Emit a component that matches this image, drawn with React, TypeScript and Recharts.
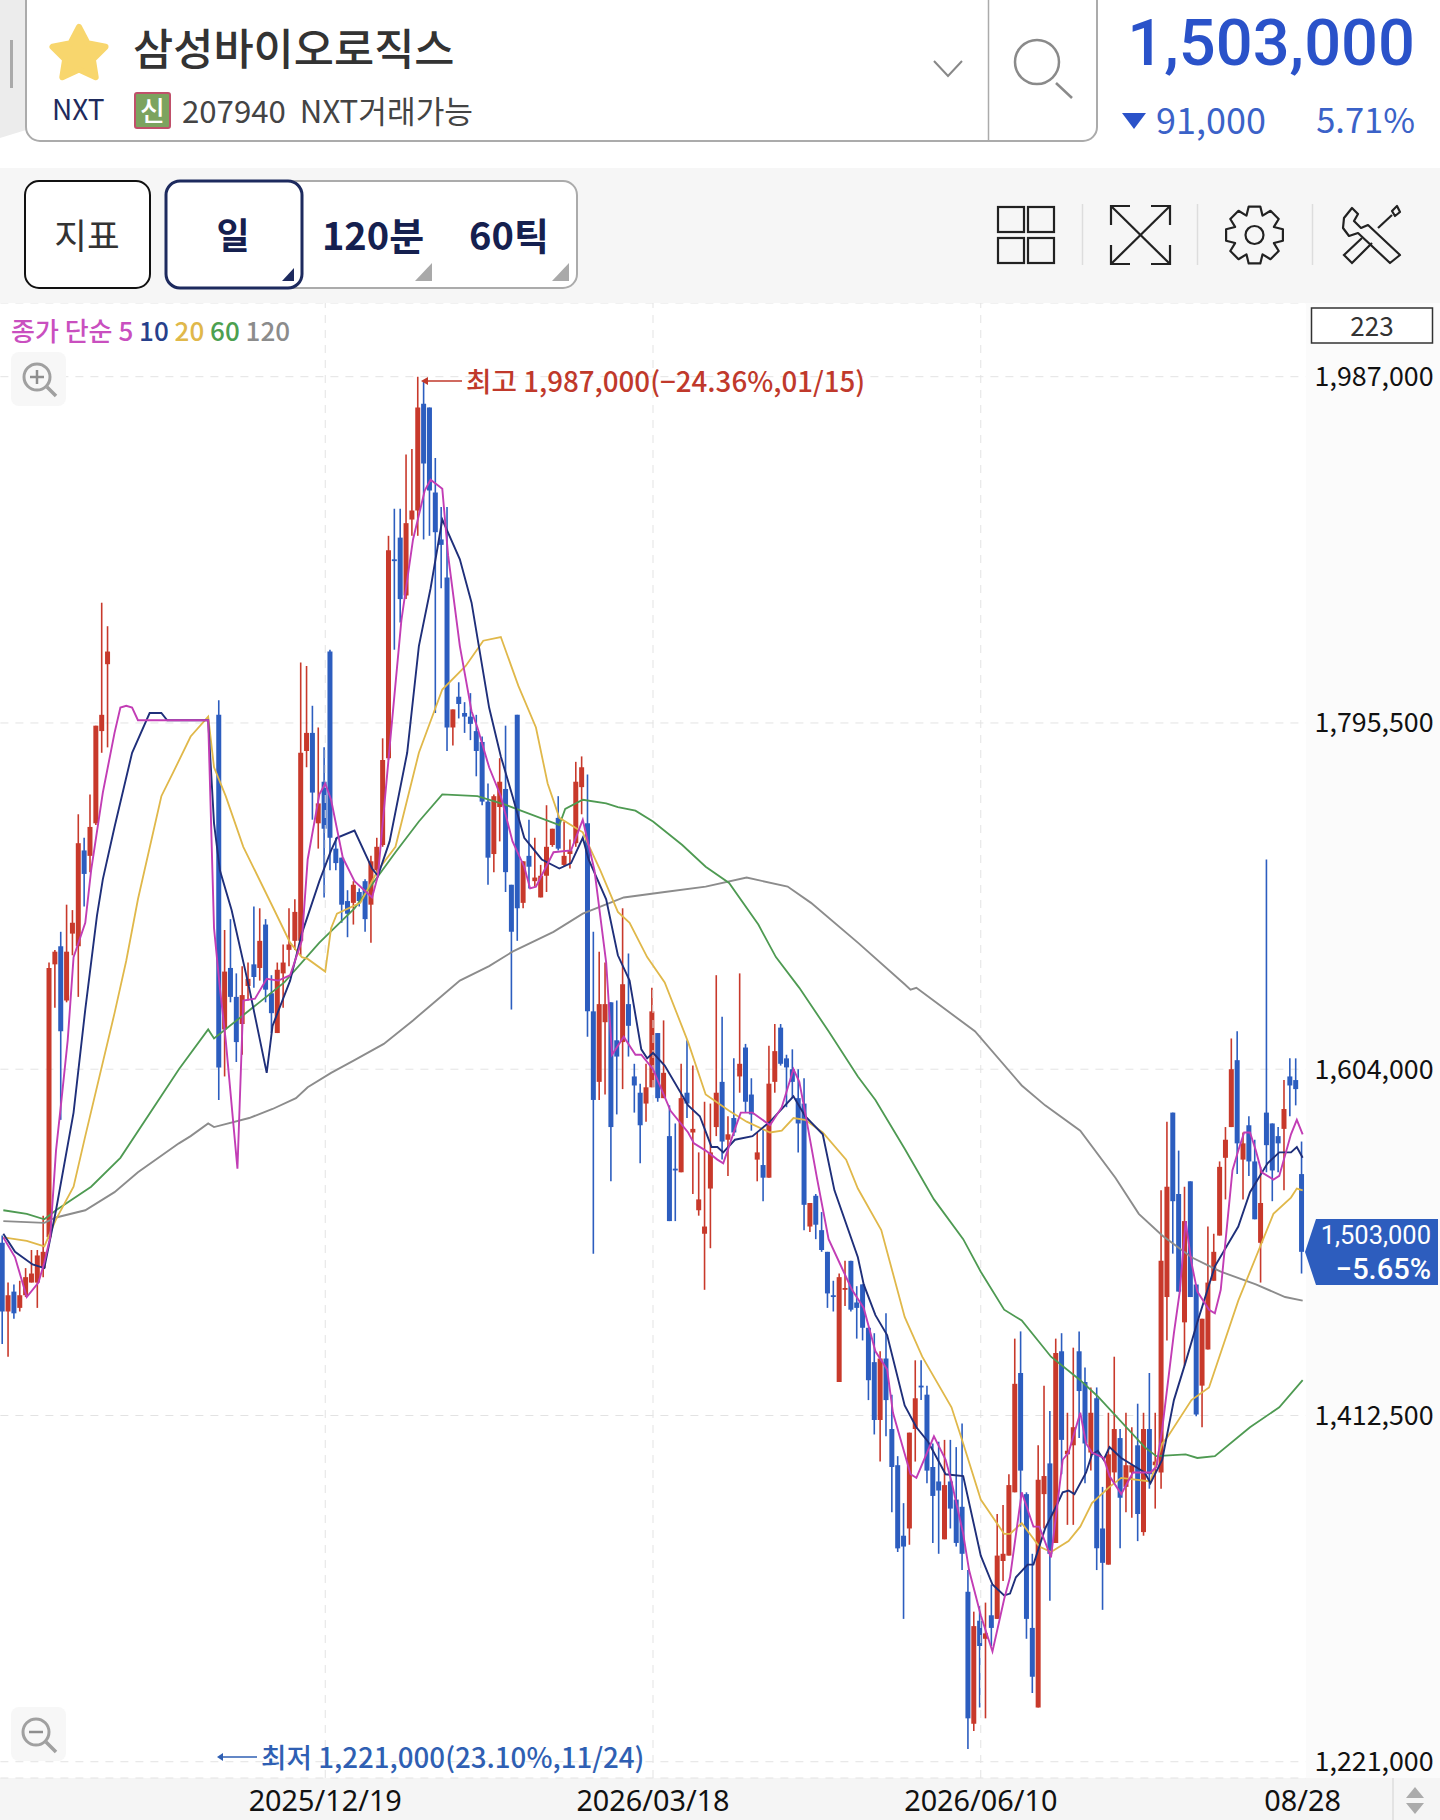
import React from 'react';
import { ComposedChart, Bar, Line, XAxis, YAxis, CartesianGrid, ReferenceLine, Cell } from 'recharts';

// prices are in thousands of won, one slot per trading day (223 bars, gap = trading halt)
const N = null;
const highs = [
  1512,1486,1485,1487,1494,1504,1504,1523,1663,1670,
  1680,1695,1692,1745,1732,1756,1794,1862,1849,N,
  N,N,N,N,N,N,N,N,N,N,
  N,N,N,N,N,N,N,1808,1681,1687,
  1657,1661,1663,1694,1693,1687,1656,1663,1673,1693,
  1698,1829,1827,1805,1793,1782,1836,1732,1721,1703,
  1708,1704,1709,1722,1732,1787,1899,1914,1914,1944,
  1947,1987,1985,1970,1942,1915,1915,1803,1818,1807,
  1812,1800,1788,1762,1756,1776,1794,1706,1800,1719,
  1742,1732,1717,1750,1737,1755,1741,1731,1774,1777,
  1767,1680,1669,1663,1641,1642,1693,1668,1607,1596,
  1607,1649,1624,1631,1584,1574,1607,1620,1606,1558,
  1586,1585,1656,1633,1578,1610,1657,1618,1599,1569,
  1571,1617,1629,1629,1612,1615,1604,1599,1530,1535,
  1525,1503,1487,1491,1498,1498,1484,1485,1461,1458,
  1448,1469,1424,1390,1364,1403,1443,1443,1429,1397,
  1398,1399,1399,1395,1408,1327,1304,1307,1309,1319,
  1358,1363,1380,1455,1459,1370,1336,1396,1429,1415,
  1455,1458,1414,1450,1459,1439,1428,1428,1373,1414,
  1445,1405,1414,1406,1419,1414,1436,1414,1537,1575,
  1580,1559,1539,1542,1485,1466,1517,1513,1553,1572,
  1621,1625,1569,1578,1565,1550,1720,1574,1572,1598,
  1610,1610,1564,
];
const lows = [
  1452,1445,1466,1470,1478,1486,1472,1489,1510,1638,
  1576,1641,1667,1644,1694,1713,1739,1779,1782,N,
  N,N,N,N,N,N,N,N,N,N,
  N,N,N,N,N,N,N,1587,1600,1641,
  1608,1612,1642,1649,1653,1641,1624,1624,1638,1661,
  1670,1667,1771,1742,1726,1699,1714,1714,1685,1677,
  1684,1694,1680,1674,1713,1727,1775,1836,1851,1864,
  1899,1899,1897,1899,1801,1870,1780,1783,1798,1790,
  1786,1766,1750,1706,1713,1730,1702,1637,1675,1693,
  1704,1705,1699,1702,1727,1725,1716,1715,1727,1745,
  1622,1502,1587,1590,1542,1579,1593,1611,1580,1552,
  1575,1594,1586,1588,1520,1520,1547,1577,1535,1523,
  1482,1505,1567,1554,1545,1567,1591,1580,1570,1542,
  1531,1544,1591,1606,1583,1588,1558,1515,1514,1510,
  1503,1472,1470,1431,1473,1470,1455,1454,1421,1402,
  1387,1401,1359,1337,1300,1341,1387,1421,1375,1342,
  1336,1344,1350,1340,1327,1228,1238,1251,1245,1285,
  1300,1321,1335,1370,1351,1289,1259,1251,1350,1310,
  1342,1380,1352,1352,1400,1375,1382,1327,1305,1330,
  1375,1339,1359,1356,1343,1346,1372,1361,1372,1454,
  1502,1481,1440,1478,1412,1406,1449,1487,1512,1532,
  1572,1546,1532,1545,1521,1486,1547,1531,1547,1537,
  1578,1584,1491,
];
const opens = [
  1508,1470,1481,1472,1479,1486,1486,1494,1511,1662,
  1672,1642,1679,1672,1725,1722,1740,1791,1828,N,
  N,N,N,N,N,N,N,N,N,N,
  N,N,N,N,N,N,N,1800,1626,1660,
  1644,1629,1650,1662,1660,1684,1646,1624,1657,1670,
  1675,1675,1780,1790,1740,1763,1835,1726,1721,1697,
  1696,1702,1708,1695,1714,1728,1776,1886,1898,1866,
  1908,1913,1972,1970,1923,1897,1876,1793,1810,1801,
  1799,1791,1785,1752,1723,1749,1759,1706,1800,1696,
  1722,1708,1699,1711,1728,1743,1717,1723,1729,1760,
  1740,1636,1597,1630,1641,1620,1619,1640,1600,1591,
  1585,1594,1624,1588,1567,1549,1547,1591,1569,1526,
  1513,1538,1572,1597,1565,1577,1600,1616,1590,1554,
  1551,1544,1597,1627,1610,1604,1588,1585,1517,1534,
  1515,1503,1479,1431,1482,1498,1475,1485,1461,1442,
  1410,1444,1405,1385,1346,1350,1405,1429,1424,1384,
  1376,1344,1376,1366,1362,1315,1242,1299,1289,1302,
  1300,1332,1335,1370,1436,1369,1295,1251,1369,1386,
  1342,1448,1391,1396,1448,1431,1392,1422,1350,1330,
  1381,1400,1373,1381,1396,1348,1405,1385,1381,1478,
  1580,1535,1464,1542,1485,1429,1449,1487,1512,1555,
  1572,1609,1554,1573,1553,1508,1580,1574,1567,1571,
  1600,1598,1546,
];
const closes = [
  1470,1479,1469,1479,1489,1491,1501,1503,1660,1669,
  1625,1669,1685,1729,1712,1738,1794,1800,1835,N,
  N,N,N,N,N,N,N,N,N,N,
  N,N,N,N,N,N,N,1605,1658,1644,
  1619,1645,1654,1655,1675,1648,1635,1659,1663,1673,
  1691,1779,1790,1757,1751,1737,1732,1718,1695,1690,
  1706,1697,1687,1719,1727,1775,1891,1885,1864,1906,
  1913,1970,1939,1924,1901,1894,1793,1803,1806,1799,
  1795,1780,1752,1721,1755,1763,1713,1680,1693,1719,
  1716,1710,1711,1727,1737,1726,1722,1725,1763,1771,
  1636,1587,1640,1640,1572,1611,1651,1628,1595,1573,
  1594,1636,1588,1602,1520,1548,1588,1585,1571,1532,
  1517,1558,1591,1564,1568,1569,1607,1586,1579,1558,
  1544,1596,1614,1607,1605,1597,1574,1529,1530,1518,
  1504,1480,1478,1489,1483,1471,1472,1461,1432,1410,
  1444,1421,1384,1339,1340,1403,1422,1428,1382,1368,
  1371,1374,1361,1342,1336,1245,1296,1285,1292,1295,
  1335,1336,1374,1430,1382,1300,1268,1377,1379,1336,
  1447,1399,1393,1406,1426,1397,1414,1339,1331,1391,
  1405,1367,1385,1385,1358,1405,1380,1387,1498,1539,
  1531,1481,1520,1478,1413,1466,1486,1503,1550,1565,
  1604,1563,1563,1553,1521,1530,1562,1548,1563,1582,
  1595,1593,1503,
];

// moving averages at their visible bends: [bar, price]
const ma5: [number, number][] = [
  [0,1511],[2,1500],[4,1478],[6,1486],[7,1497],[8,1511],[9,1559],[10,1589],[11,1620],[12,1666],[14,1685],[15,1714],
  [17,1757],[19,1790],[20,1804],[21,1805],[22,1804],[23,1797],[35,1797],[36,1682],[37,1649],[38,1620],[40,1549],
  [41,1642],[43,1643],[45,1654],[47,1653],[49,1656],[51,1675],[52,1720],[54,1756],[55,1762],[56,1753],[58,1721],
  [60,1708],[63,1699],[64,1711],[66,1782],[68,1852],[70,1897],[72,1924],[73,1930],[75,1925],[76,1888],[78,1838],
  [80,1802],[81,1793],[83,1771],[85,1755],[87,1730],[89,1716],[90,1704],[91,1705],[94,1724],[97,1725],[99,1742],
  [101,1714],[103,1663],[104,1612],[106,1622],[108,1612],[109,1612],[111,1604],[114,1581],[117,1569],[118,1563],
  [120,1559],[122,1554],[123,1552],[125,1571],[126,1580],[128,1580],[131,1573],[133,1583],[135,1604],[136,1597],
  [137,1580],[139,1544],[141,1510],[143,1496],[145,1482],[147,1472],[149,1448],[151,1438],[152,1414],[155,1380],
  [156,1378],[159,1401],[161,1388],[162,1376],[164,1347],[165,1327],[167,1302],[169,1282],[171,1311],[172,1323],
  [174,1370],[176,1351],[177,1351],[179,1334],[181,1388],[182,1392],[184,1414],[185,1397],[186,1392],[188,1389],
  [189,1379],[191,1369],[193,1381],[196,1381],[197,1384],[198,1405],[200,1458],[201,1481],[202,1520],[203,1497],
  [204,1481],[206,1471],[207,1469],[208,1482],[210,1548],[211,1559],[212,1569],[213,1569],[214,1559],[215,1547],
  [217,1543],[218,1545],[220,1568],[221,1576],[222,1568],
];
const ma10: [number, number][] = [
  [0,1513],[2,1503],[5,1496],[7,1494],[9,1526],[12,1580],[14,1637],[16,1689],[17,1709],[19,1738],[22,1779],[25,1801],
  [27,1801],[28,1797],[35,1797],[36,1740],[37,1714],[39,1692],[42,1649],[45,1602],[46,1628],[49,1653],[51,1679],
  [54,1708],[56,1725],[57,1732],[60,1736],[63,1715],[64,1711],[66,1730],[69,1779],[71,1838],[73,1870],[75,1908],
  [78,1886],[80,1862],[83,1804],[85,1777],[87,1755],[89,1732],[92,1720],[95,1715],[97,1718],[99,1732],[100,1720],
  [103,1698],[105,1667],[107,1653],[109,1615],[110,1610],[111,1613],[113,1606],[117,1584],[119,1578],[121,1561],
  [122,1561],[123,1558],[125,1565],[128,1567],[131,1575],[135,1589],[137,1578],[140,1568],[142,1537],[146,1500],
  [147,1485],[149,1468],[151,1457],[154,1418],[156,1406],[158,1398],[161,1380],[164,1379],[167,1335],[169,1319],
  [171,1313],[172,1314],[173,1323],[175,1330],[176,1330],[178,1350],[180,1363],[181,1370],[182,1371],[183,1369],
  [185,1381],[186,1391],[187,1393],[188,1388],[189,1395],[191,1389],[193,1385],[195,1381],[196,1375],[198,1388],
  [200,1421],[202,1442],[204,1464],[207,1495],[211,1517],[213,1536],[216,1552],[218,1558],[220,1558],[221,1561],
  [222,1555],
];
const ma20: [number, number][] = [
  [0,1511],[4,1509],[7,1506],[9,1521],[12,1539],[14,1567],[19,1635],[21,1664],[23,1698],[27,1755],[29,1768],[32,1788],
  [35,1799],[36,1771],[38,1755],[41,1727],[46,1694],[49,1674],[51,1666],[52,1665],[55,1658],[56,1682],[57,1690],
  [61,1696],[64,1714],[67,1727],[71,1779],[75,1814],[79,1827],[82,1841],[85,1843],[88,1816],[91,1793],[93,1762],
  [95,1743],[99,1735],[102,1714],[105,1691],[107,1685],[110,1666],[113,1652],[117,1619],[120,1590],[124,1581],
  [127,1575],[131,1569],[133,1570],[135,1577],[137,1576],[140,1569],[144,1554],[146,1538],[150,1515],[154,1467],
  [157,1445],[162,1417],[164,1397],[167,1366],[171,1347],[172,1347],[174,1353],[177,1340],[179,1337],[182,1343],
  [184,1351],[186,1364],[189,1373],[191,1378],[196,1376],[198,1397],[199,1401],[203,1421],[206,1428],[211,1476],
  [217,1524],[220,1533],[221,1538],[222,1537],
];
const ma60: [number, number][] = [
  [0,1526],[4,1524],[7,1521],[9,1526],[15,1539],[20,1555],[30,1604],[35,1626],[36,1621],[48,1652],[54,1674],[60,1693],
  [67,1724],[71,1741],[75,1756],[81,1755],[86,1750],[95,1739],[96,1748],[99,1753],[103,1751],[105,1749],[108,1747],
  [111,1741],[116,1728],[120,1716],[124,1707],[129,1684],[132,1666],[136,1649],[141,1625],[146,1600],[149,1587],
  [154,1560],[159,1532],[164,1510],[167,1492],[171,1471],[174,1465],[179,1445],[184,1432],[187,1423],[195,1395],
  [197,1390],[202,1391],[204,1389],[207,1390],[213,1406],[218,1417],[222,1432],
];
const ma120: [number, number][] = [
  [0,1520],[7,1519],[9,1522],[14,1526],[19,1536],[23,1547],[30,1563],[32,1567],[35,1574],[36,1572],[42,1577],[46,1582],
  [50,1588],[52,1594],[56,1602],[60,1609],[65,1618],[70,1631],[74,1642],[78,1653],[83,1661],[87,1669],[94,1680],
  [99,1690],[106,1699],[113,1702],[120,1705],[127,1710],[134,1705],[138,1696],[146,1674],[154,1651],[155,1648],
  [156,1649],[166,1625],[174,1595],[178,1584],[184,1570],[190,1544],[194,1524],[198,1512],[203,1500],[208,1492],
  [214,1485],[219,1478],[222,1476],
];

const dateTicks = [55, 111, 167, 222];
const dateLabels = ['2025/12/19', '2026/03/18', '2026/06/10', '08/28'];
const priceTicks = [1221, 1412.5, 1604, 1795.5, 1987];
const gridDates = [55, 111, 167];

const RED = '#C8392B';
const BLUE = '#2C5DBF';
const FONT = '"Noto Sans CJK KR", "Noto Sans", sans-serif';
const NUM_FONT = 'Roboto, sans-serif';

const lookup = (pairs: [number, number][]) => new Map(pairs);
const ma5Map = lookup(ma5);
const ma10Map = lookup(ma10);
const ma20Map = lookup(ma20);
const ma60Map = lookup(ma60);
const ma120Map = lookup(ma120);

const rows = highs.map((high, i) => ({
  i,
  high,
  low: lows[i],
  open: opens[i],
  close: closes[i],
  ma5: ma5Map.get(i) ?? null,
  ma10: ma10Map.get(i) ?? null,
  ma20: ma20Map.get(i) ?? null,
  ma60: ma60Map.get(i) ?? null,
  ma120: ma120Map.get(i) ?? null,
}));

const wickRange = (d: any) => (d.high == null ? [0, 0] : [d.low, d.high]);
const bodyRange = (d: any) => (d.high == null ? [0, 0] : [Math.min(d.open, d.close), Math.max(d.open, d.close)]);
const candleColor = (d: any) => (d.close >= d.open ? RED : BLUE);

const gearPath = () => {
  // 8 tooth outline around the settings icon centre
  const cx = 1254.5;
  const cy = 235;
  const pts: string[] = [];
  for (let t = 0; t < 8; t++) {
    const a = (t * Math.PI) / 4 - Math.PI / 2;
    [[-0.39, 21], [-0.2, 29], [0.2, 29], [0.39, 21]].forEach(([da, r]) => {
      pts.push(`${(cx + r * Math.cos(a + da)).toFixed(1)},${(cy + r * Math.sin(a + da)).toFixed(1)}`);
    });
  }
  return pts.join(' ');
};

const Backdrop = () => (
  <svg width={1440} height={1820} style={{ position: 'absolute', left: 0, top: 0 }}>
    <rect x={0} y={168} width={1440} height={135} fill="#F6F6F6" />
    <rect x={1306} y={303} width={134} height={1475} fill="#FBFBFB" />
    <rect x={0} y={1778} width={1440} height={42} fill="#F5F5F5" />
  </svg>
);

const Overlay = () => (
  <svg width={1440} height={1820} style={{ position: 'absolute', left: 0, top: 0, fontFamily: FONT }}>
    {/* search bar */}
    <polygon points="0,0 26,0 26,130 0,138" fill="#ECECEC" />
    <rect x={10} y={40} width={3} height={48} fill="#AAAAAA" />
    <rect x={26} y={-20} width={1071} height={161} rx={14} fill="#FFFFFF" stroke="#ABABAB" strokeWidth={2} />
    <line x1={988.5} y1={0} x2={988.5} y2={141} stroke="#ABABAB" strokeWidth={1.5} />
    <polygon
      points="79,27 87.5,43.2 105.5,46.8 92.9,59.5 95.7,77.2 79,69.6 62.3,77.2 65.1,59.5 52.5,46.8 70.5,43.2"
      fill="#F8D66D"
      stroke="#F8D66D"
      strokeWidth={6}
      strokeLinejoin="round"
    />
    <text x={133} y={46} fontSize={43.7} fontWeight={500} fill="#333333" dominantBaseline="central">삼성바이오로직스</text>
    <text x={52} y={108} fontSize={28} fill="#1E2A5C" dominantBaseline="central">NXT</text>
    <rect x={135} y={93} width={35} height={35} rx={2} fill="#7CA35F" stroke="#C0506A" strokeWidth={2} />
    <text x={152.5} y={109} fontSize={27} fontWeight={500} fill="#FFFFFF" textAnchor="middle" dominantBaseline="central">신</text>
    <text x={182} y={109} fontSize={31.2} fill="#444444" dominantBaseline="central" xmlSpace="preserve">207940  NXT거래가능</text>
    <polyline points="934,61 948,76 962,61" fill="none" stroke="#888888" strokeWidth={2} />
    <ellipse cx={1037} cy={62} rx={22} ry={22} fill="none" stroke="#8A8A8A" strokeWidth={2.5} />
    <line x1={1056} y1={83} x2={1072} y2={98} stroke="#8A8A8A" strokeWidth={2.5} />

    {/* current price */}
    <text x={1415} y={43} fontSize={65} fontWeight={500} fontFamily={NUM_FONT} fill="#2A52C9" textAnchor="end" dominantBaseline="central">1,503,000</text>
    <polygon points="1122,113 1146,113 1134,129" fill="#2A52C9" />
    <text x={1156} y={118} fontSize={36} fill="#3B62C8" dominantBaseline="central">91,000</text>
    <text x={1415} y={118} fontSize={34.5} fill="#3B62C8" textAnchor="end" dominantBaseline="central">5.71%</text>

    {/* toolbar */}
    <rect x={25} y={181} width={125} height={107} rx={14} fill="#FFFFFF" stroke="#111111" strokeWidth={2} />
    <text x={87} y={233} fontSize={35.5} fill="#333333" textAnchor="middle" dominantBaseline="central">지표</text>
    <rect x={166} y={181} width={411} height={107} rx={14} fill="#FFFFFF" stroke="#ABABAB" strokeWidth={2} />
    <rect x={166} y={181} width={136} height={107} rx={14} fill="#FFFFFF" stroke="#1D2A5E" strokeWidth={3} />
    <text x={233} y={233} fontSize={36} fontWeight={700} fill="#15204F" textAnchor="middle" dominantBaseline="central">일</text>
    <polygon points="294,268 294,281 282,281" fill="#1D2A5E" />
    <text x={373} y={233} fontSize={38} fontWeight={700} fill="#15204F" textAnchor="middle" dominantBaseline="central">120분</text>
    <polygon points="432,263 432,281 415,281" fill="#A9A9A9" />
    <text x={509} y={233} fontSize={38} fontWeight={700} fill="#15204F" textAnchor="middle" dominantBaseline="central">60틱</text>
    <polygon points="569,263 569,281 552,281" fill="#A9A9A9" />

    {/* toolbar icons */}
    <g fill="none" stroke="#222222" strokeWidth={2.2}>
      <rect x={998} y={207} width={26} height={25} />
      <rect x={1028} y={207} width={26} height={25} />
      <rect x={998} y={238} width={26} height={25} />
      <rect x={1028} y={238} width={26} height={25} />
      <line x1={1111} y1={206} x2={1170} y2={264} />
      <line x1={1170} y1={206} x2={1111} y2={264} />
      <polyline points="1130,206 1111,206 1111,225" />
      <polyline points="1151,206 1170,206 1170,225" />
      <polyline points="1111,245 1111,264 1130,264" />
      <polyline points="1170,245 1170,264 1151,264" />
      <polygon points={gearPath()} strokeLinejoin="round" />
      <circle cx={1254.5} cy={235} r={9} />
      <polygon points="1352,208 1358,214 1354,221 1361,228 1368,225 1400,255 1390,263 1358,233 1349,236 1343,228 1344,218" strokeLinejoin="round" />
      <polygon points="1392,211 1397,206 1400,212 1395,216" strokeLinejoin="round" />
      <line x1={1392} y1={215} x2={1378} y2={228} />
      <polyline points="1362,238 1344,255 1352,263 1372,243" />
    </g>
    <g stroke="#DDDDDD" strokeWidth={1.5}>
      <line x1={1082.5} y1={204} x2={1082.5} y2={265} />
      <line x1={1197.5} y1={204} x2={1197.5} y2={265} />
      <line x1={1312.5} y1={204} x2={1312.5} y2={265} />
    </g>

    {/* MA legend */}
    <text x={11} y={329} fontSize={26} fontWeight={500} dominantBaseline="central" xmlSpace="preserve">
      <tspan fill="#C94FBF">종가 단순 5 </tspan>
      <tspan fill="#27408B">10 </tspan>
      <tspan fill="#E0B84A">20 </tspan>
      <tspan fill="#4CA050">60 </tspan>
      <tspan fill="#8C8C8C">120</tspan>
    </text>

    {/* zoom buttons */}
    <rect x={11} y={352} width={55} height={54} rx={8} fill="#F7F7F7" />
    <circle cx={37} cy={377} r={13} fill="none" stroke="#A0A0A0" strokeWidth={3} />
    <line x1={30} y1={377} x2={44} y2={377} stroke="#8E8E8E" strokeWidth={2.5} />
    <line x1={37} y1={370} x2={37} y2={384} stroke="#8E8E8E" strokeWidth={2.5} />
    <line x1={47} y1={387} x2={56} y2={396} stroke="#A0A0A0" strokeWidth={3.5} />
    <rect x={11} y={1707} width={55} height={54} rx={8} fill="#F7F7F7" />
    <circle cx={36} cy={1732} r={13} fill="none" stroke="#A0A0A0" strokeWidth={3} />
    <line x1={29} y1={1732} x2={43} y2={1732} stroke="#8E8E8E" strokeWidth={2.5} />
    <line x1={46} y1={1742} x2={56} y2={1752} stroke="#A0A0A0" strokeWidth={3.5} />

    {/* high / low notes */}
    <line x1={424} y1={381} x2={462} y2={381} stroke="#C0392B" strokeWidth={1.5} />
    <polygon points="421,381 428,377 428,385" fill="#C0392B" />
    <text x={466} y={380} fontSize={27.7} fontWeight={500} fill="#C0392B" dominantBaseline="central">최고 1,987,000(−24.36%,01/15)</text>
    <line x1={220} y1={1757} x2={257} y2={1757} stroke="#2F5FB3" strokeWidth={1.5} />
    <polygon points="217,1757 223,1753 223,1761" fill="#2F5FB3" />
    <text x={261} y={1756} fontSize={27.7} fontWeight={500} fill="#2F5FB3" dominantBaseline="central">최저 1,221,000(23.10%,11/24)</text>

    {/* visible bar count */}
    <rect x={1311.5} y={308} width={121} height={35} fill="#FFFFFF" stroke="#333333" strokeWidth={1.5} />
    <text x={1372} y={324} fontSize={26} fill="#333333" textAnchor="middle" dominantBaseline="central">223</text>

    {/* last price tag */}
    <polygon points="1305,1252 1316,1219 1438,1219 1438,1285 1316,1285" fill="#2D5DBE" />
    <text x={1431} y={1235} fontSize={25.5} fontFamily={NUM_FONT} fill="#FFFFFF" textAnchor="end" dominantBaseline="central">1,503,000</text>
    <text x={1431} y={1269} fontSize={29} fontWeight={500} fontFamily={NUM_FONT} fill="#FFFFFF" textAnchor="end" dominantBaseline="central">−5.65%</text>

    {/* scroll arrows */}
    <line x1={1393} y1={1778} x2={1393} y2={1820} stroke="#DDDDDD" strokeWidth={1.5} />
    <polygon points="1415,1787 1424,1798 1406,1798" fill="#ABABAB" />
    <polygon points="1406,1803 1424,1803 1415,1814" fill="#ABABAB" />
  </svg>
);

const App = () => (
  <div style={{ position: 'absolute', left: 0, top: 0, width: 1440, height: 1820, background: '#FFFFFF', overflow: 'hidden', fontFamily: FONT }}>
    <Backdrop />
    <div style={{ position: 'absolute', left: 0, top: 303 }}>
      <ComposedChart
        width={1440}
        height={1517}
        data={rows}
        margin={{ top: 0, right: 0, bottom: 0, left: 0.4 }}
        barGap={-3.3}
      >
        <CartesianGrid vertical={false} stroke="#E3E3E3" strokeDasharray="8 7" />
        <XAxis
          dataKey="i"
          type="category"
          ticks={dateTicks}
          interval={0}
          height={42}
          tickLine={false}
          axisLine={false}
          tickMargin={7}
          tick={{ fontSize: 28.8, fill: '#111111', fontFamily: '"Noto Sans", sans-serif' }}
          tickFormatter={(v: number) => dateLabels[dateTicks.indexOf(v)] ?? ''}
        />
        <YAxis
          orientation="right"
          type="number"
          width={134.4}
          domain={[1212, 2027.76]}
          allowDataOverflow
          ticks={priceTicks}
          interval={0}
          tickLine={false}
          axisLine={false}
          tickMargin={8}
          tick={{ fontSize: 26.8, fill: '#111111', dx: -5 }}
          tickFormatter={(v: number) => (v * 1000).toLocaleString('en-US')}
        />
        {gridDates.map(d => (
          <ReferenceLine key={d} x={d} stroke="#E3E3E3" strokeDasharray="8 7" />
        ))}
        <Bar dataKey={wickRange} barSize={1.6} isAnimationActive={false}>
          {rows.map(d => (
            <Cell key={d.i} fill={candleColor(d)} />
          ))}
        </Bar>
        <Bar dataKey={bodyRange} barSize={5} isAnimationActive={false}>
          {rows.map(d => (
            <Cell key={d.i} fill={candleColor(d)} />
          ))}
        </Bar>
        <Line dataKey="ma120" stroke="#8C8C8C" strokeWidth={1.9} dot={false} connectNulls isAnimationActive={false} />
        <Line dataKey="ma60" stroke="#4E9A52" strokeWidth={1.8} dot={false} connectNulls isAnimationActive={false} />
        <Line dataKey="ma20" stroke="#E0B84A" strokeWidth={1.8} dot={false} connectNulls isAnimationActive={false} />
        <Line dataKey="ma10" stroke="#1F2F7A" strokeWidth={1.9} dot={false} connectNulls isAnimationActive={false} />
        <Line dataKey="ma5" stroke="#C23DB5" strokeWidth={1.9} dot={false} connectNulls isAnimationActive={false} />
      </ComposedChart>
    </div>
    <Overlay />
  </div>
);

export default App;
